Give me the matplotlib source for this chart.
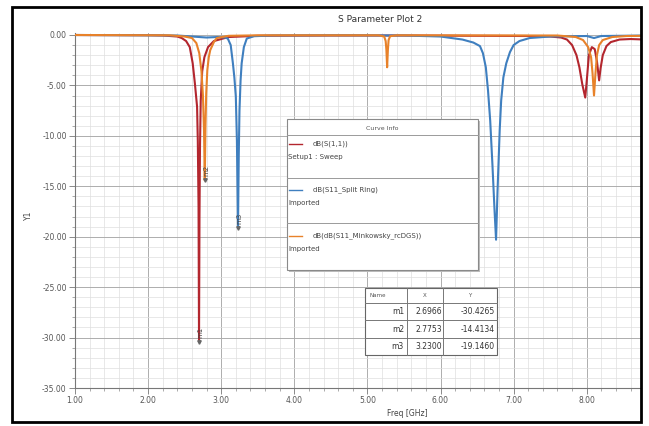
import matplotlib
matplotlib.use("Agg")
import matplotlib.pyplot as plt
from matplotlib.patches import Rectangle
from matplotlib.ticker import MultipleLocator, FormatStrFormatter

# ---------------- data ----------------
red_f = [1.0, 2.0, 2.2, 2.4, 2.46, 2.52, 2.57, 2.61, 2.64, 2.67, 2.68, 2.69, 2.6966,
         2.703, 2.71, 2.72, 2.74, 2.77, 2.82, 2.9, 3.1, 3.5, 4.5, 5.5, 6.5, 7.2,
         7.5, 7.65, 7.73, 7.8, 7.86, 7.9, 7.94, 7.98, 8.0, 8.03, 8.07, 8.11,
         8.14, 8.17, 8.19, 8.22, 8.27, 8.33, 8.45, 8.6, 8.8]
red_db = [0.0, -0.02, -0.05, -0.15, -0.3, -0.6, -1.2, -2.8, -4.8, -7.1, -10.5, -17.0, -30.43,
          -18.0, -11.0, -6.5, -3.6, -2.2, -1.2, -0.6, -0.2, -0.08, -0.05, -0.05, -0.08, -0.1,
          -0.15, -0.25, -0.45, -1.0, -2.0, -3.2, -4.9, -6.2, -4.6, -2.0, -1.2, -1.4,
          -2.6, -4.5, -3.3, -2.0, -1.1, -0.7, -0.45, -0.4, -0.45]

blue_f = [1.0, 2.4, 2.6, 2.8, 2.95, 3.05, 3.09, 3.13, 3.16, 3.18, 3.20, 3.215, 3.23,
          3.24, 3.25, 3.265, 3.28, 3.31, 3.35, 3.45, 3.7, 4.5, 5.5, 6.0, 6.15, 6.3,
          6.45, 6.54, 6.58, 6.62, 6.65, 6.68, 6.71, 6.74, 6.76, 6.78, 6.81, 6.83,
          6.86, 6.9, 6.95, 7.0, 7.08, 7.22, 7.5, 8.0, 8.1, 8.2, 8.8]
blue_db = [0.0, -0.05, -0.15, -0.25, -0.2, -0.25, -0.35, -1.0, -2.8, -4.2, -6.1, -10.5, -19.15,
           -12.0, -7.5, -4.5, -2.8, -1.2, -0.35, -0.12, -0.05, -0.03, -0.05, -0.15, -0.3, -0.45,
           -0.75, -1.1, -1.8, -3.2, -5.5, -8.5, -12.8, -17.5, -20.3, -15.5, -9.4, -6.5,
           -4.2, -2.8, -1.7, -1.0, -0.6, -0.3, -0.15, -0.1, -0.3, -0.1, -0.05]

orng_f = [1.0, 2.3, 2.5, 2.6, 2.66, 2.70, 2.73, 2.75, 2.765, 2.7753, 2.785, 2.795,
          2.81, 2.83, 2.85, 2.9, 2.94, 3.1, 3.5, 5.15, 5.23, 5.25, 5.26, 5.27, 5.28,
          5.29, 5.31, 5.4, 7.6, 7.85, 7.95, 8.02, 8.06, 8.08, 8.10, 8.12, 8.14, 8.17,
          8.22, 8.35, 8.55, 8.8]
orng_db = [0.0, -0.03, -0.15, -0.3, -0.8, -1.8, -3.6, -6.0, -9.5, -14.41, -9.0, -5.8,
           -3.5, -2.2, -1.5, -0.7, -0.3, -0.08, -0.03, -0.03, -0.15, -0.6, -1.5, -3.2, -1.5,
           -0.5, -0.12, -0.03, -0.05, -0.2, -0.5, -1.2, -2.2, -3.8, -6.0, -3.8, -2.0, -1.0,
           -0.5, -0.2, -0.1, -0.08]

series_names = ["dB(S(1,1))", "dB(S11_Split Ring)", "dB(dB(S11_Minkowsky_rcDGS))"]
series_sub = ["Setup1 : Sweep", "Imported", "Imported"]
series_colors = ["#b3262e", "#3f7fbf", "#e8822a"]

markers = ["m1", "m2", "m3"]
marker_x = [2.6966, 2.7753, 3.2300]
marker_y = [-30.4265, -14.4134, -19.1460]

title = "S Parameter Plot 2"
xlabel = "Freq [GHz]"
ylabel = "Y1"

# ---------------- figure ----------------
W, H = 649, 426
fig = plt.figure(figsize=(W / 100, H / 100), dpi=100)
fig.patch.set_facecolor("white")

ax_l, ax_r, ax_t, ax_b = 75, 641, 33, 388
ax = fig.add_axes([ax_l / W, 1 - ax_b / H, (ax_r - ax_l) / W, (ax_b - ax_t) / H])
ax.set_xlim(1.0, 1.0 + (ax_r - ax_l) / 73.1)
ax.set_ylim(-35.0, 35.0 * (ax_b - ax_t) / (ax_b - 35) - 35.0)

ax.xaxis.set_major_locator(MultipleLocator(1.0))
ax.xaxis.set_minor_locator(MultipleLocator(0.2))
ax.yaxis.set_major_locator(MultipleLocator(5.0))
ax.yaxis.set_minor_locator(MultipleLocator(1.0))
ax.xaxis.set_major_formatter(FormatStrFormatter("%.2f"))
ax.yaxis.set_major_formatter(FormatStrFormatter("%.2f"))

ax.grid(which="major", color="#adadad", linewidth=0.7)
ax.grid(which="minor", color="#dedede", linewidth=0.5)
ax.set_axisbelow(True)
for s in ["top", "right"]:
    ax.spines[s].set_visible(False)
for s in ["left", "bottom"]:
    ax.spines[s].set_color("#777777")
    ax.spines[s].set_linewidth(0.8)
ax.tick_params(which="major", length=4, width=0.6, color="#777777",
               labelsize=5.5, labelcolor="#555555", pad=2)
ax.tick_params(which="minor", length=2, width=0.5, color="#888888")

ax.plot(red_f, red_db, color=series_colors[0], lw=1.5, zorder=3)
ax.plot(blue_f, blue_db, color=series_colors[1], lw=1.5, zorder=3)
ax.plot(orng_f, orng_db, color=series_colors[2], lw=1.5, zorder=4)

for name, mx, my in zip(markers, marker_x, marker_y):
    ax.plot([mx], [my], marker="v", ms=2.5, color="#666666", zorder=5)
    ax.annotate(name, (mx, my), xytext=(1.0, 7), textcoords="offset points",
                rotation=90, ha="center", va="center", fontsize=5,
                color="#444444", zorder=6)

# ---------------- overlay in pixel coordinates ----------------
ov = fig.add_axes([0, 0, 1, 1], facecolor="none")
ov.set_xlim(0, W)
ov.set_ylim(H, 0)
ov.axis("off")

ov.text(380, 20, title, fontsize=6.5, color="#333333", ha="center", va="center")
ov.text(407, 413, xlabel, fontsize=5.5, color="#444444", ha="center", va="center")
ov.text(28, 215, ylabel, fontsize=5.5, color="#444444", ha="center", va="center",
        rotation=90)

# outer black frame
ov.add_patch(Rectangle((12, 7), 629, 415, fill=False, edgecolor="black", lw=2.0, zorder=10))

# Curve info box
bx0, by0, bx1, by1 = 287, 119, 478, 270
ov.add_patch(Rectangle((bx0 + 2, by0 + 2), bx1 - bx0, by1 - by0, facecolor="#bdbdbd",
                       edgecolor="none", zorder=7))
ov.add_patch(Rectangle((bx0, by0), bx1 - bx0, by1 - by0, facecolor="white",
                       edgecolor="#8a8a8a", lw=0.8, zorder=8))
ov.text((bx0 + bx1) / 2, 128, "Curve Info", fontsize=4.5, color="#555555",
        ha="center", va="center", zorder=9)
for yy in [135, 178, 223]:
    ov.plot([bx0, bx1], [yy, yy], color="#9a9a9a", lw=0.7, zorder=9)
entry_y = [144, 190, 236]
for i in range(3):
    ey = entry_y[i]
    ov.plot([289, 302], [ey, ey], color=series_colors[i], lw=1.0, zorder=9)
    ov.text(313, ey, series_names[i], fontsize=5, color="#444444", ha="left",
            va="center", zorder=9)
    ov.text(288, ey + 13, series_sub[i], fontsize=5, color="#444444", ha="left",
            va="center", zorder=9)

# Marker table
tx = [365, 407, 443, 497]
ty = [288, 303, 320, 338, 355]
ov.add_patch(Rectangle((tx[0], ty[0]), tx[-1] - tx[0], ty[-1] - ty[0], facecolor="white",
                       edgecolor="#666666", lw=0.8, zorder=8))
for yy in ty[1:-1]:
    ov.plot([tx[0], tx[-1]], [yy, yy], color="#777777", lw=0.7, zorder=9)
for xx in tx[1:-1]:
    ov.plot([xx, xx], [ty[0], ty[-1]], color="#777777", lw=0.7, zorder=9)
hy = (ty[0] + ty[1]) / 2
ov.text(369, hy, "Name", fontsize=4, color="#555555", ha="left", va="center", zorder=9)
ov.text((tx[1] + tx[2]) / 2, hy, "X", fontsize=4, color="#555555", ha="center",
        va="center", zorder=9)
ov.text((tx[2] + tx[3]) / 2, hy, "Y", fontsize=4, color="#555555", ha="center",
        va="center", zorder=9)
for i in range(3):
    ry = (ty[i + 1] + ty[i + 2]) / 2
    ov.text(tx[1] - 3, ry, markers[i], fontsize=5.5, color="#333333", ha="right",
            va="center", zorder=9)
    ov.text(tx[2] - 1, ry, "%.4f" % marker_x[i], fontsize=5.5, color="#333333",
            ha="right", va="center", zorder=9)
    ov.text(tx[3] - 2, ry, "%.4f" % marker_y[i], fontsize=5.5, color="#333333",
            ha="right", va="center", zorder=9)

fig.savefig("out.png", dpi=100)
